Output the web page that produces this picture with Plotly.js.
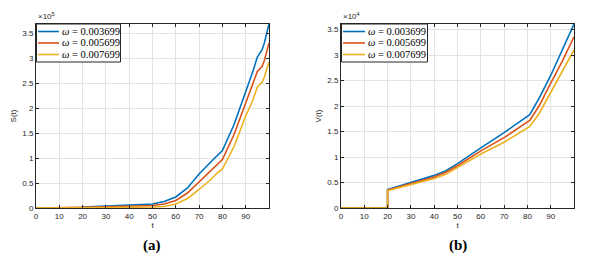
<!DOCTYPE html>
<html>
<head>
<meta charset="utf-8">
<script src="https://cdn.plot.ly/plotly-3.0.1.min.js"></script>
<style>html,body{margin:0;padding:0;background:#fff;}#chart{width:609px;height:268px;}</style>
</head>
<body>
<div id="chart"></div>
<script>
// ---- data (S in units of 1e5, V in units of 1e4) ----
const omegaValues = ["0.003699", "0.005699", "0.007699"];
const colors = ["#0072BD", "#D95319", "#EDB120"];

const tS = [0, 10, 19.9, 20, 30, 40, 50, 55, 60, 65, 70, 75, 78, 80, 85, 90, 93, 95, 97, 98, 100];
const S1 = [0, 0, 0, 0.02, 0.035, 0.05, 0.08, 0.13, 0.22, 0.40, 0.68, 0.92, 1.05, 1.15, 1.67, 2.32, 2.72, 3.02, 3.16, 3.30, 3.68];
const S2 = [0, 0, 0, 0.015, 0.025, 0.03, 0.05, 0.08, 0.15, 0.30, 0.52, 0.76, 0.88, 0.97, 1.47, 2.08, 2.45, 2.73, 2.83, 2.95, 3.30];
const S3 = [0, 0, 0, 0.01, 0.01, 0.015, 0.02, 0.03, 0.08, 0.19, 0.37, 0.57, 0.71, 0.78, 1.23, 1.84, 2.15, 2.42, 2.51, 2.62, 2.92];

const tV = [0, 10, 20, 20, 30, 40, 45, 50, 60, 70, 81, 85, 90, 95, 100];
const V1 = [0, 0, 0, 0.36, 0.50, 0.64, 0.73, 0.87, 1.18, 1.48, 1.83, 2.15, 2.60, 3.10, 3.61];
const V2 = [0, 0, 0, 0.35, 0.48, 0.61, 0.70, 0.83, 1.12, 1.38, 1.72, 2.00, 2.45, 2.88, 3.36];
const V3 = [0, 0, 0, 0.34, 0.46, 0.58, 0.66, 0.79, 1.06, 1.29, 1.60, 1.85, 2.27, 2.67, 3.10];

const xTicks = [0, 10, 20, 30, 40, 50, 60, 70, 80, 90];

const Sset = [S1, S2, S3];
const Vset = [V1, V2, V3];
const traces = [];
Sset.forEach((s, i) => traces.push({
  x: tS, y: s, type: 'scatter', mode: 'lines', name: '\u03c9 = ' + omegaValues[i], showlegend: false,
  line: {color: colors[i], width: 1.6}, xaxis: 'x', yaxis: 'y'
}));
Vset.forEach((v, i) => traces.push({
  x: tV, y: v, type: 'scatter', mode: 'lines', name: '\u03c9 = ' + omegaValues[i], showlegend: false,
  line: {color: colors[i], width: 1.6}, xaxis: 'x2', yaxis: 'y2'
}));

const W = 609, H = 268;
const SERIF = 'Times New Roman, Liberation Serif, DejaVu Serif, serif';
const axisFont = {family: 'Arial, Liberation Sans, sans-serif', size: 8, color: '#262626'};
function xax(domain, anchor) {
  return {domain: domain, anchor: anchor, range: [0, 100], tickvals: xTicks,
    showgrid: true, gridcolor: '#e3e3e3', gridwidth: 1, zeroline: false,
    showline: true, linecolor: '#262626', linewidth: 1, mirror: 'ticks',
    ticks: 'inside', ticklen: 3, tickcolor: '#262626', tickfont: axisFont,
    title: {text: 't', font: axisFont, standoff: 2}};
}
function yax(domain, anchor, range, label) {
  return {domain: domain, anchor: anchor, range: range, dtick: 0.5, tick0: 0,
    showgrid: true, gridcolor: '#e3e3e3', gridwidth: 1, zeroline: false,
    showline: true, linecolor: '#262626', linewidth: 1, mirror: 'ticks',
    ticks: 'inside', ticklen: 3, tickcolor: '#262626', tickfont: axisFont,
    title: {text: label, font: axisFont, standoff: 4}};
}
const ydom = [1 - 208/H, 1 - 24/H];

// manual legends (compact, MATLAB-like)
const shapes = [];
const annotations = [];
function addLegend(x0, x1, lineX0, lineX1, textX) {
  shapes.push({type: 'rect', xref: 'paper', yref: 'paper',
    x0: x0/W, x1: x1/W, y0: 1 - 62/H, y1: 1 - 24/H,
    fillcolor: '#ffffff', line: {color: '#262626', width: 1}, layer: 'above'});
  const rows = [31.5, 43, 54.5];
  rows.forEach((ry, i) => {
    shapes.push({type: 'line', xref: 'paper', yref: 'paper',
      x0: lineX0/W, x1: lineX1/W, y0: 1 - ry/H, y1: 1 - ry/H,
      line: {color: colors[i], width: 1.6}, layer: 'above'});
    annotations.push({text: '<i>\u03c9</i> = ' + omegaValues[i], xref: 'paper', yref: 'paper',
      x: textX/W, y: 1 - ry/H, xanchor: 'left', yanchor: 'middle', showarrow: false,
      font: {family: SERIF, size: 10.5, color: '#000'}});
  });
}
addLegend(36.5, 120.5, 38, 59, 60);
addLegend(341.5, 427.5, 343, 365, 366);

annotations.push(
  {text: '\u00d710<sup>5</sup>', x: 36/W, y: 1 - 23/H, xref: 'paper', yref: 'paper',
   xanchor: 'left', yanchor: 'bottom', showarrow: false,
   font: {family: 'Arial, Liberation Sans, sans-serif', size: 8, color: '#262626'}},
  {text: '\u00d710<sup>4</sup>', x: 341/W, y: 1 - 23/H, xref: 'paper', yref: 'paper',
   xanchor: 'left', yanchor: 'bottom', showarrow: false,
   font: {family: 'Arial, Liberation Sans, sans-serif', size: 8, color: '#262626'}},
  {text: '<b>(a)</b>', x: 152/W, y: 1 - 245/H, xref: 'paper', yref: 'paper',
   xanchor: 'center', yanchor: 'middle', showarrow: false,
   font: {family: SERIF, size: 15, color: '#000'}},
  {text: '<b>(b)</b>', x: 458/W, y: 1 - 245/H, xref: 'paper', yref: 'paper',
   xanchor: 'center', yanchor: 'middle', showarrow: false,
   font: {family: SERIF, size: 15, color: '#000'}}
);

const layout = {
  width: W, height: H,
  margin: {l: 0, r: 0, t: 0, b: 0},
  paper_bgcolor: '#fff', plot_bgcolor: '#fff',
  showlegend: false,
  xaxis: xax([36/W, 269/W], 'y'),
  yaxis: yax(ydom, 'x', [0, 3.68], 'S(t)'),
  xaxis2: xax([341/W, 574/W], 'y2'),
  yaxis2: yax(ydom, 'x2', [0, 3.61], 'V(t)'),
  shapes: shapes,
  annotations: annotations
};

Plotly.newPlot('chart', traces, layout, {displayModeBar: false, staticPlot: true});
</script>
</body>
</html>
